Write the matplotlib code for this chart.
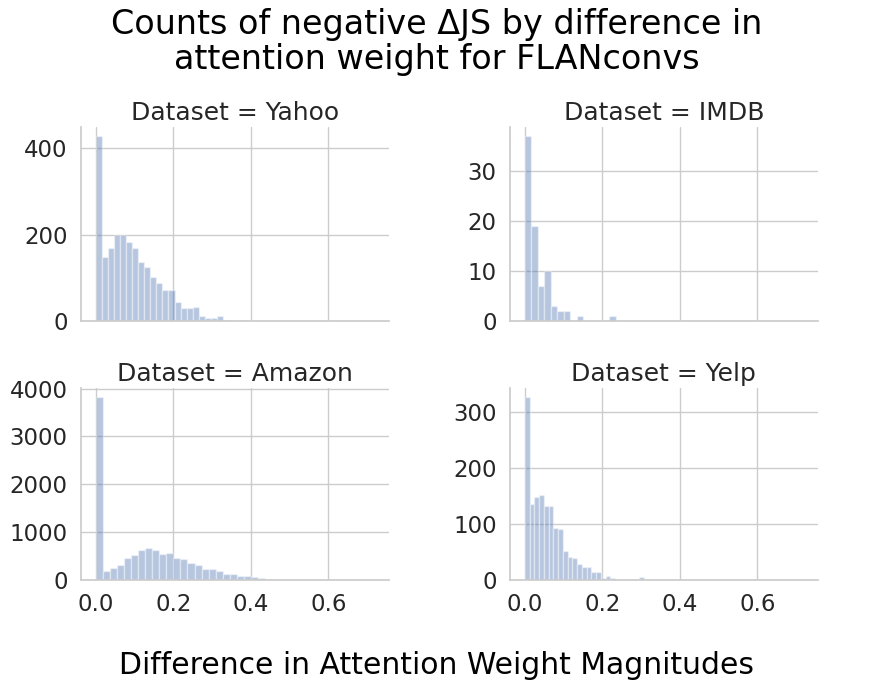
import numpy as np
import matplotlib
matplotlib.use("Agg")
import matplotlib.pyplot as plt
import seaborn as sns

sns.set_style("whitegrid")
plt.rcParams["font.family"] = ["DejaVu Sans"]

# ------------------------------------------------------------------ #
# Histogram counts (bins start at 0.0)
# ------------------------------------------------------------------ #
datasets = ["Yahoo", "IMDB", "Amazon", "Yelp"]

yahoo_width = 0.01564
yahoo_counts = [428, 148, 170, 199, 199, 182, 170, 137, 126, 101, 88, 71, 71,
                44, 30, 30, 32, 11, 8, 6, 12, 2, 2, 0, 2]

imdb_width = 0.0168
imdb_counts = [37, 19, 7, 10, 3, 2, 2, 0, 1, 0, 0, 0, 0, 1]

amazon_width = 0.0182
amazon_counts = [3815, 198, 244, 311, 456, 523, 622, 668, 622, 545, 569, 460,
                 435, 354, 318, 227, 227, 182, 122, 122, 78, 78, 55, 35, 14, 5, 2]

yelp_width = 0.01226
yelp_counts = [326, 136, 148, 152, 132, 133, 93, 92, 52, 41, 39, 28, 23, 24,
               15, 15, 3, 8, 4, 2, 0, 2, 0, 2, 6]

widths = {"Yahoo": yahoo_width, "IMDB": imdb_width,
          "Amazon": amazon_width, "Yelp": yelp_width}
counts = {"Yahoo": yahoo_counts, "IMDB": imdb_counts,
          "Amazon": amazon_counts, "Yelp": yelp_counts}

xticks = [0.0, 0.2, 0.4, 0.6]
BLUE = "#4C72B0"

fig = plt.figure(figsize=(8.73, 6.8), dpi=100)
positions = [
    [0.0925, 0.528, 0.353, 0.285],
    [0.584, 0.528, 0.353, 0.285],
    [0.0925, 0.147, 0.353, 0.282],
    [0.584, 0.147, 0.353, 0.282],
]

axes = []
for pos, name in zip(positions, datasets):
    ax = fig.add_axes(pos)
    c = np.array(counts[name])
    w = widths[name]
    edges = np.arange(len(c)) * w
    ax.bar(edges, c, width=w, align="edge", color=BLUE, alpha=0.4,
           edgecolor="white", linewidth=1.0)
    ax.set_xlim(-0.0385, 0.756)
    ax.set_xticks(xticks)
    ax.set_title(f"Dataset = {name}", fontsize=18, color="#262626", pad=5)
    ax.tick_params(labelsize=16.5, colors="#262626", pad=9.5, length=0)
    ax.grid(True, color="#cccccc", linewidth=1.0)
    for side in ["top", "right"]:
        ax.spines[side].set_visible(False)
    for side in ["left", "bottom"]:
        ax.spines[side].set_color("#cccccc")
        ax.spines[side].set_linewidth(1.25)
    axes.append(ax)

for ax in axes[:2]:
    ax.tick_params(labelbottom=False)

axes[0].set_yticks([0, 200, 400])
axes[1].set_yticks([0, 10, 20, 30])
axes[2].set_yticks([0, 1000, 2000, 3000, 4000])
axes[3].set_yticks([0, 100, 200, 300])

fig.text(0.5, 0.938, "Counts of negative ΔJS by difference in\nattention weight for FLANconvs",
         fontsize=24, ha="center", va="center", linespacing=1.1, color="black")
fig.text(0.5, 0.022, "Difference in Attention Weight Magnitudes",
         fontsize=21.5, ha="center", va="center", color="black")

fig.savefig("out.png", dpi=100)
